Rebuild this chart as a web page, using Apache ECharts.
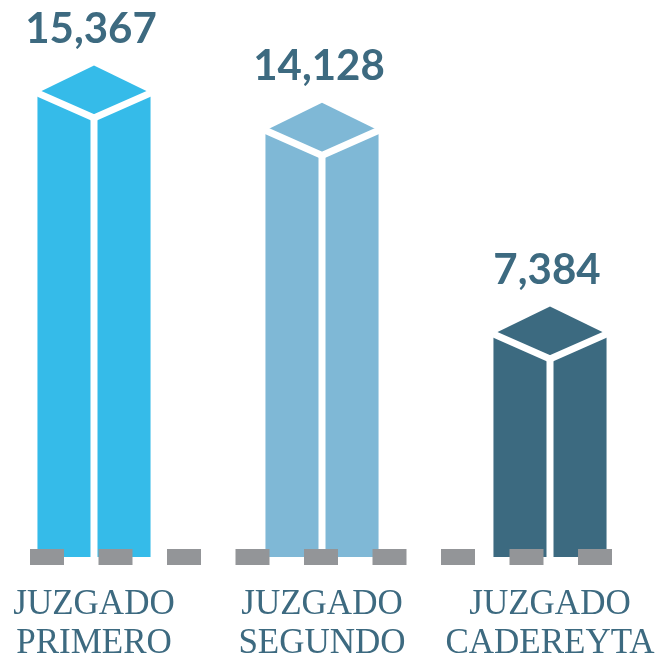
<!DOCTYPE html>
<html>
<head>
<meta charset="utf-8">
<script src="https://cdn.jsdelivr.net/npm/echarts@6/dist/echarts.min.js"></script>
<style>
  html, body { margin: 0; padding: 0; background: #ffffff; }
  #chart { width: 663px; height: 660px; }
</style>
</head>
<body>
<div id="chart"></div>
<script>
// data
const categories = ['JUZGADO\nPRIMERO', 'JUZGADO\nSEGUNDO', 'JUZGADO\nCADEREYTA'];
const values = [15367, 14128, 7384];
const barColors = ['#35bbe9', '#7fb8d6', '#3c6a80'];

const textColor = '#3d6a80';
const dashGray = '#939598';

const chart = echarts.init(document.getElementById('chart'), null, { renderer: 'canvas' });

// draws one isometric box: a hexagon with a white "Y" cut into it
function renderBox(params, api) {
  const idx = api.value(0);
  const top = api.coord([idx, api.value(1)]);
  const base = api.coord([idx, 0]);
  const cx = top[0];
  const w = api.size([1, 0])[0] * 0.248;
  const rise = w * 0.49;
  const drop = w * 0.44;
  const apex = top[1] - rise;

  return {
    type: 'group',
    children: [
      {
        type: 'polygon',
        shape: {
          points: [
            [cx, apex],
            [cx - w, top[1]],
            [cx - w, base[1]],
            [cx + w, base[1]],
            [cx + w, top[1]]
          ]
        },
        style: { fill: barColors[idx] }
      },
      {
        type: 'polyline',
        shape: { points: [[cx - w - 2, top[1] - 1], [cx, top[1] + drop], [cx + w + 2, top[1] - 1]] },
        style: { stroke: '#ffffff', lineWidth: 7, fill: null }
      },
      {
        type: 'line',
        shape: { x1: cx, y1: top[1] + drop, x2: cx, y2: base[1] },
        style: { stroke: '#ffffff', lineWidth: 7 }
      },
      {
        type: 'text',
        style: {
          text: values[idx].toLocaleString('en-US'),
          x: cx - 3,
          y: apex - 36,
          align: 'center',
          verticalAlign: 'middle',
          fill: textColor,
          font: 'bold 42px Lato'
        }
      }
    ]
  };
}

const option = {
  animation: false,
  backgroundColor: '#ffffff',
  grid: { left: -20, right: -1, top: 74, bottom: 103, outerBoundsMode: 'none' },
  xAxis: {
    type: 'category',
    data: categories,
    axisTick: { show: false },
    axisLine: { show: false },
    axisLabel: {
      margin: 28,
      color: textColor,
      fontFamily: 'Liberation Serif',
      fontSize: 35,
      lineHeight: 39,
      interval: 0
    }
  },
  yAxis: { type: 'value', min: 0, max: 16000, show: false },
  series: [
    {
      type: 'custom',
      renderItem: renderBox,
      data: values.map((v, i) => [i, v]),
      encode: { x: 0, y: 1 },
      markLine: {
        silent: true,
        symbol: 'none',
        label: { show: false },
        lineStyle: { color: dashGray, width: 16, type: [34, 34.5], cap: 'butt', opacity: 1 },
        emphasis: { disabled: true },
        data: [[{ x: 30, y: 557 }, { x: 612, y: 557 }]]
      }
    }
  ]
};

chart.setOption(option);
</script>
</body>
</html>
